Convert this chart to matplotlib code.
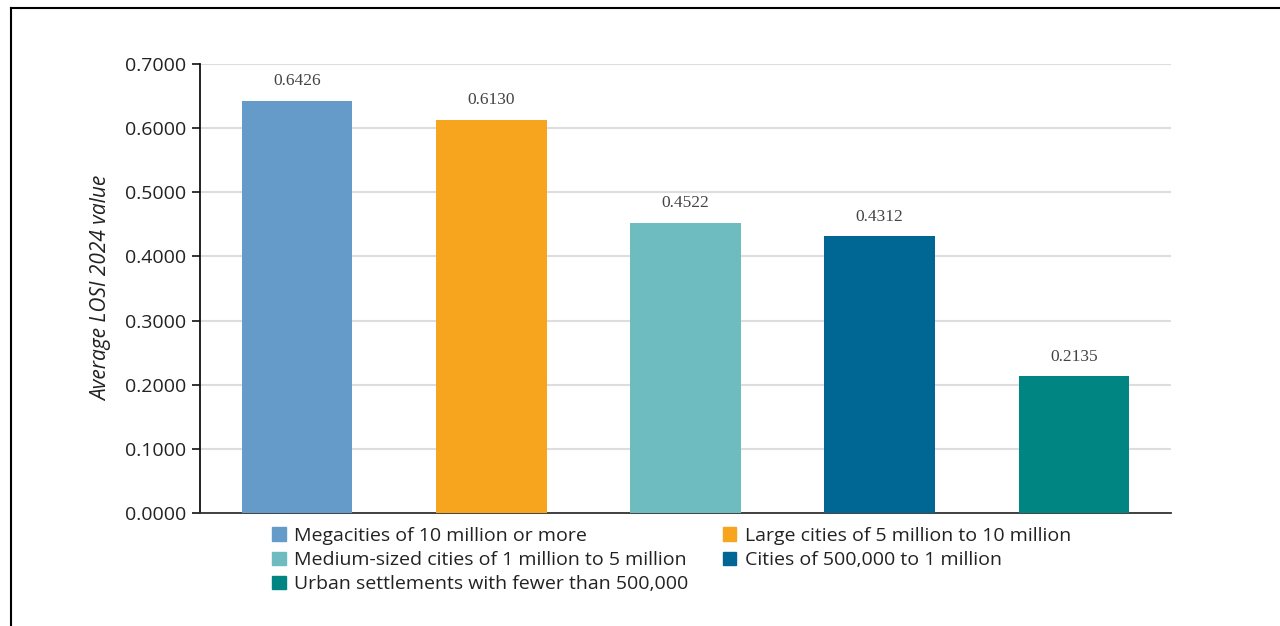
import matplotlib.pyplot as plt
import matplotlib.patches as mpatches
import numpy as np

categories = ["Megacities of 10 million or more",
              "Large cities of 5 million to 10 million",
              "Medium-sized cities of 1 million to 5 million",
              "Cities of 500,000 to 1 million",
              "Urban settlements with fewer than 500,000"]
values = [0.6426, 0.6130, 0.4522, 0.4312, 0.2135]
colors = ["#659BC9", "#F7A51E", "#6EBCBF", "#006795", "#008583"]
yticks = [0.0, 0.1, 0.2, 0.3, 0.4, 0.5, 0.6, 0.7]

plt.rcParams['font.family'] = ['Open Sans', 'DejaVu Sans']

fig = plt.figure(figsize=(12.8, 6.26), dpi=100)
ax = fig.add_axes([200/1280, 1 - 513/626, 971/1280, 449/626])

x = np.arange(len(values))
bars = ax.bar(x, values, width=0.57, color=colors, zorder=3)

## value labels above the bars
for xi, v in zip(x, values):
    ax.text(xi, v + 0.018, "%.4f" % v, ha="center", va="bottom",
            fontsize=12.5, family="Liberation Serif", color="#444444")

ax.set_xlim(-0.5, len(values) - 0.5)
ax.set_ylim(0, 0.7)
ax.set_yticks(yticks)
ax.set_yticklabels(["%.4f" % t for t in yticks], fontsize=14, color="#222222")
ax.set_xticks([])
ax.yaxis.grid(True, color="#dddddd", linewidth=1.5, zorder=0)
ax.tick_params(axis="y", length=6, width=1.2, color="#111111", pad=4)

for s in ["top", "right"]:
    ax.spines[s].set_visible(False)
ax.spines["left"].set_linewidth(1.3)
ax.spines["bottom"].set_linewidth(1.3)
ax.spines["left"].set_color("#111111")
ax.spines["bottom"].set_color("#333333")

ax.set_ylabel("Average LOSI 2024 value", fontsize=15, style="italic",
              color="#222222", labelpad=9)

## legend, filled column by column
order = [0, 2, 4, 1, 3]
handles = [mpatches.Patch(color=colors[i], label=categories[i]) for i in order]
fig.legend(handles=handles, ncol=2, frameon=False, loc="upper left",
           bbox_to_anchor=(272/1280, 1 - 527/626), fontsize=14,
           handlelength=0.7, handleheight=0.7, handletextpad=0.45,
           columnspacing=1.75, labelspacing=0.32, borderpad=0, borderaxespad=0,
           labelcolor="#222222")

## outer frame (left and top edges)
fig.add_artist(plt.Line2D([11/1280, 11/1280], [0, 1 - 8/626], color="black", linewidth=1.5))
fig.add_artist(plt.Line2D([11/1280, 1], [1 - 8/626, 1 - 8/626], color="black", linewidth=1.5))

plt.savefig("out.png", dpi=100)
